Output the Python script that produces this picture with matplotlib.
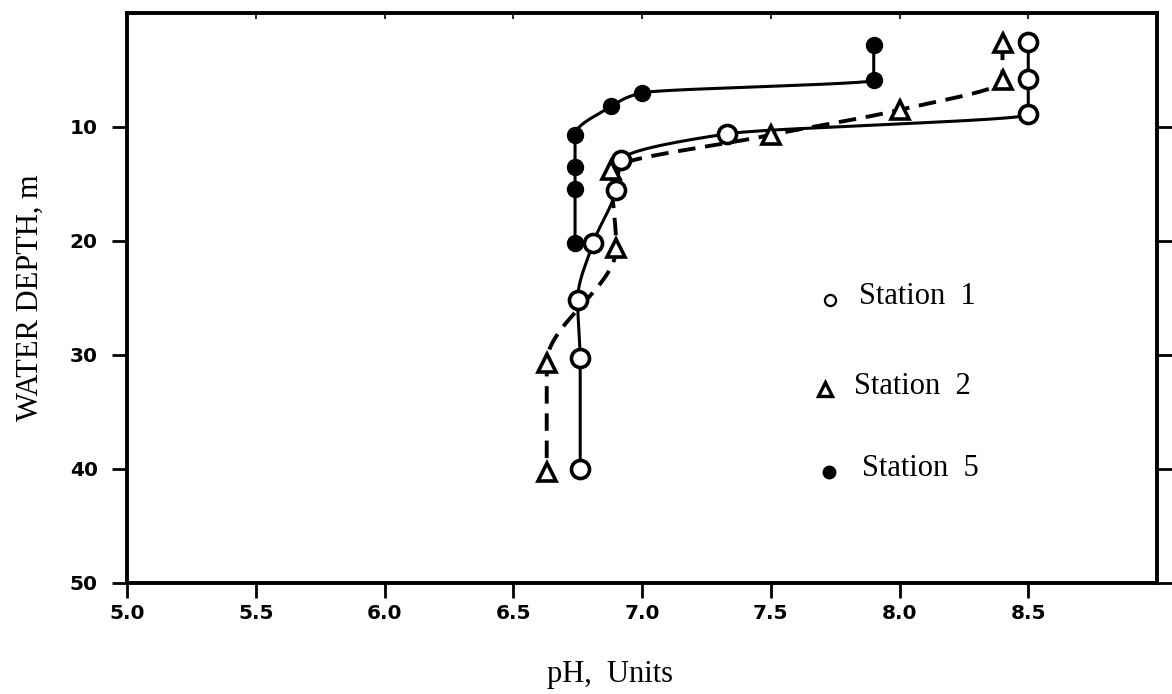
import numpy as np
import matplotlib
matplotlib.use("Agg")
import matplotlib.pyplot as plt

# data: pH against water depth (m)
depth_st1 = [2.5, 5.8, 8.9, 10.6, 12.9, 15.5, 20.2, 25.2, 30.3, 40.0]
ph_st1 = [8.5, 8.5, 8.5, 7.33, 6.92, 6.90, 6.81, 6.75, 6.76, 6.76]

depth_st2 = [2.6, 5.9, 8.5, 10.7, 13.8, 20.6, 30.7, 40.3]
ph_st2 = [8.4, 8.4, 8.0, 7.5, 6.88, 6.90, 6.63, 6.63]

depth_st5 = [2.8, 5.9, 7.0, 8.2, 10.7, 13.5, 15.4, 20.2]
ph_st5 = [7.9, 7.9, 7.0, 6.88, 6.74, 6.74, 6.74, 6.74]

x_ticks = [5.0, 5.5, 6.0, 6.5, 7.0, 7.5, 8.0, 8.5]
x_labels = ["5.0", "5.5", "6.0", "6.5", "7.0", "7.5", "8.0", "8.5"]
y_ticks = [10, 20, 30, 40, 50]
legend_labels = ["Station  1", "Station  2", "Station  5"]


def pchip(x, y, xs):
    """monotone cubic through the points, used for the hand drawn curves"""
    x = np.asarray(x, float)
    y = np.asarray(y, float)
    h = np.diff(x)
    d = np.diff(y) / h
    m = np.zeros_like(y)
    for k in range(1, len(x) - 1):
        if d[k - 1] * d[k] > 0:
            w1 = 2 * h[k] + h[k - 1]
            w2 = h[k] + 2 * h[k - 1]
            m[k] = (w1 + w2) / (w1 / d[k - 1] + w2 / d[k])
    m[0] = 0.0 if len(d) < 2 or d[0] * d[1] <= 0 else d[0]
    m[-1] = 0.0 if len(d) < 2 or d[-1] * d[-2] <= 0 else d[-1]
    idx = np.clip(np.searchsorted(x, xs) - 1, 0, len(h) - 1)
    t = (xs - x[idx]) / h[idx]
    h00 = 2 * t**3 - 3 * t**2 + 1
    h10 = t**3 - 2 * t**2 + t
    h01 = -2 * t**3 + 3 * t**2
    h11 = t**3 - t**2
    return h00 * y[idx] + h10 * h[idx] * m[idx] + h01 * y[idx + 1] + h11 * h[idx] * m[idx + 1]


fig = plt.figure(figsize=(11.72, 6.94), dpi=100)
ax = fig.add_axes([127 / 1172, 1 - 583 / 694, 1030 / 1172, 570 / 694])

serif = "Liberation Serif"

# curves
d1 = np.linspace(depth_st1[0], depth_st1[-1], 600)
ax.plot(pchip(depth_st1, ph_st1, d1), d1, color="black", lw=2.2, zorder=2)
d2 = np.linspace(depth_st2[0], depth_st2[-1], 600)
ax.plot(pchip(depth_st2, ph_st2, d2), d2, color="black", lw=2.8,
        linestyle=(0, (4.5, 2.5)), zorder=2)
d5 = np.linspace(depth_st5[0], depth_st5[-1], 600)
ax.plot(pchip(depth_st5, ph_st5, d5), d5, color="black", lw=2.2, zorder=2)

# markers
ax.plot(ph_st1, depth_st1, "o", ms=13, mfc="white", mec="black", mew=2.6, zorder=4)
ax.plot(ph_st2, depth_st2, "^", ms=13, mfc="white", mec="black", mew=2.6, zorder=4)
ax.plot(ph_st5, depth_st5, "o", ms=11.5, mfc="black", mec="black", zorder=4)

ax.set_xlim(5.0, 9.0)
ax.set_ylim(50, 0)

ax.set_xticks(x_ticks)
ax.set_xticklabels(x_labels, fontsize=14.5, fontweight="bold", family="DejaVu Sans")
ax.set_yticks(y_ticks)
ax.set_yticklabels([str(v) for v in y_ticks], fontsize=14.5, fontweight="bold",
                   family="DejaVu Sans")
ax.tick_params(axis="x", direction="out", length=11, width=2, pad=4, top=False)
ax.tick_params(axis="y", direction="out", length=11, width=2, pad=10,
               left=True, right=True)

top = ax.secondary_xaxis("top")
top.set_xticks(x_ticks[1:])
top.tick_params(direction="in", length=4, width=1.2, labeltop=False)
top.spines["top"].set_visible(False)

for s in ax.spines.values():
    s.set_linewidth(2.8)

ax.set_xlabel("pH,  Units", fontsize=22, family=serif, labelpad=18)
ax.xaxis.set_label_coords(0.469, -0.135)
ax.set_ylabel("WATER DEPTH, m", fontsize=22, family=serif, labelpad=18)

# legend drawn as in the original (markers and text inside the frame)
leg_x = [0.683, 0.678, 0.682]
leg_y = [0.497, 0.34, 0.195]
ax.plot(leg_x[0], leg_y[0], "o", ms=8, mfc="white", mec="black", mew=1.6,
        transform=ax.transAxes, clip_on=False)
ax.plot(leg_x[1], leg_y[1], "^", ms=9.5, mfc="white", mec="black", mew=2.4,
        transform=ax.transAxes, clip_on=False)
ax.plot(leg_x[2], leg_y[2], "o", ms=9, mfc="black", mec="black",
        transform=ax.transAxes, clip_on=False)
for i, lab in enumerate(legend_labels):
    ax.text(leg_x[i] + 0.028 + (0.004 if i == 2 else 0), leg_y[i] + 0.005, lab,
            transform=ax.transAxes, fontsize=22, family=serif, va="center")

fig.savefig("out.png", dpi=100)
